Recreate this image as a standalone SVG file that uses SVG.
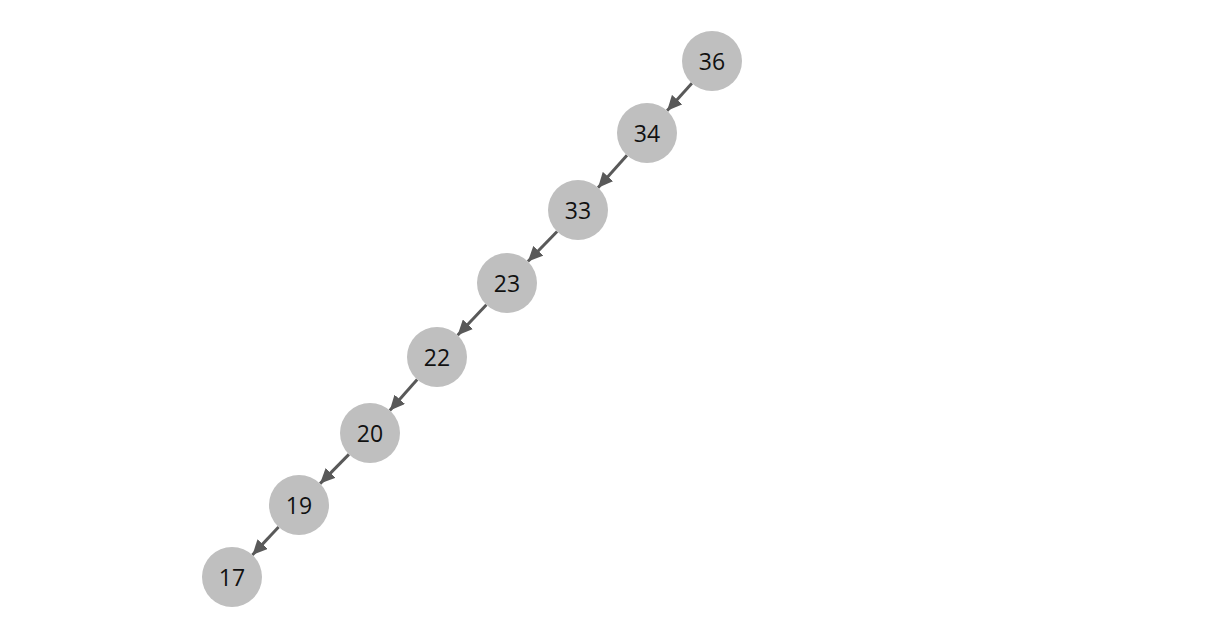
<svg xmlns="http://www.w3.org/2000/svg" width="1207" height="633" viewBox="0 0 1207 633">
<style>
.node circle{fill:#bfbfbf;}
.node text{font-family:"Open Sans","Noto Sans","Liberation Sans",sans-serif;font-size:23px;fill:#111111;text-anchor:middle;dominant-baseline:central;}
.edge{stroke:#595959;stroke-width:3;fill:none;marker-end:url(#arr);}
</style>
<defs>
<marker id="arr" markerUnits="userSpaceOnUse" markerWidth="16" markerHeight="14" refX="15" refY="7" orient="auto" viewBox="0 0 16 14">
<path d="M0,0 L15,7 L0,14 Z" fill="#595959"/>
</marker>
</defs>
<rect width="1207" height="633" fill="#ffffff"/>
<g id="connectors">
<line class="edge" x1="691.9" y1="83.3" x2="667.1" y2="110.7"/>
<line class="edge" x1="627.0" y1="155.3" x2="598.0" y2="187.7"/>
<line class="edge" x1="557.1" y1="231.5" x2="527.9" y2="261.5"/>
<line class="edge" x1="486.4" y1="304.8" x2="457.6" y2="335.2"/>
<line class="edge" x1="417.2" y1="379.5" x2="389.8" y2="410.5"/>
<line class="edge" x1="348.9" y1="454.4" x2="320.1" y2="483.6"/>
<line class="edge" x1="278.6" y1="527.0" x2="252.4" y2="555.0"/>
</g>
<g id="n36" class="node"><circle cx="712" cy="61" r="30"/><text x="712" y="61">36</text></g>
<g id="n34" class="node"><circle cx="647" cy="133" r="30"/><text x="647" y="133">34</text></g>
<g id="n33" class="node"><circle cx="578" cy="210" r="30"/><text x="578" y="210">33</text></g>
<g id="n23" class="node"><circle cx="507" cy="283" r="30"/><text x="507" y="283">23</text></g>
<g id="n22" class="node"><circle cx="437" cy="357" r="30"/><text x="437" y="357">22</text></g>
<g id="n20" class="node"><circle cx="370" cy="433" r="30"/><text x="370" y="433">20</text></g>
<g id="n19" class="node"><circle cx="299" cy="505" r="30"/><text x="299" y="505">19</text></g>
<g id="n17" class="node"><circle cx="232" cy="577" r="30"/><text x="232" y="577">17</text></g>
</svg>
